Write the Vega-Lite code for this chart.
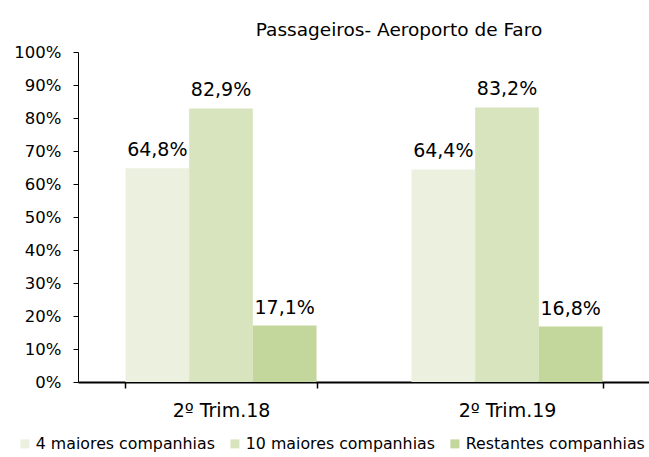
{
  "$schema": "https://vega.github.io/schema/vega-lite/v6.json",
  "width": 572,
  "height": 330,
  "autosize": {"type": "none"},
  "padding": {"left": 78, "top": 52, "right": 0, "bottom": 75},
  "background": "white",
  "title": {
    "text": "Passageiros- Aeroporto de Faro",
    "font": "DejaVu Sans",
    "fontSize": 18.5,
    "fontWeight": "normal",
    "color": "#000000",
    "anchor": "middle",
    "dx": 35,
    "offset": 5
  },
  "data": {
    "values": [
      {"trim": "2º Trim.18", "grupo": "4 maiores companhias", "valor": 0.648},
      {"trim": "2º Trim.18", "grupo": "10 maiores companhias", "valor": 0.829},
      {"trim": "2º Trim.18", "grupo": "Restantes companhias", "valor": 0.171},
      {"trim": "2º Trim.19", "grupo": "4 maiores companhias", "valor": 0.644},
      {"trim": "2º Trim.19", "grupo": "10 maiores companhias", "valor": 0.832},
      {"trim": "2º Trim.19", "grupo": "Restantes companhias", "valor": 0.168}
    ]
  },
  "encoding": {
    "x": {
      "field": "trim",
      "type": "nominal",
      "sort": null,
      "scale": {"paddingInner": 0.332, "paddingOuter": 0.166},
      "axis": {
        "title": null,
        "labelAngle": 0,
        "labelFontSize": 19,
        "labelColor": "#000000",
        "labelPadding": 13,
        "tickBand": "extent",
        "ticks": true,
        "tickSize": 6,
        "tickColor": "#000000",
        "tickWidth": 1.5,
        "domainColor": "#000000",
        "domainWidth": 2
      }
    },
    "xOffset": {
      "field": "grupo",
      "type": "nominal",
      "sort": ["4 maiores companhias", "10 maiores companhias", "Restantes companhias"],
      "scale": {"paddingInner": 0, "paddingOuter": 0}
    },
    "y": {
      "field": "valor",
      "type": "quantitative",
      "scale": {"domain": [0, 1], "nice": false},
      "axis": {
        "title": null,
        "values": [0, 0.1, 0.2, 0.3, 0.4, 0.5, 0.6, 0.7, 0.8, 0.9, 1],
        "format": ".0%",
        "grid": false,
        "labelFontSize": 16.5,
        "labelColor": "#000000",
        "labelPadding": 12,
        "tickSize": 5,
        "tickColor": "#000000",
        "domainColor": "#000000",
        "domainWidth": 1
      }
    }
  },
  "layer": [
    {
      "mark": {"type": "bar"},
      "encoding": {
        "color": {
          "field": "grupo",
          "type": "nominal",
          "scale": {
            "domain": ["4 maiores companhias", "10 maiores companhias", "Restantes companhias"],
            "range": ["#ebf1de", "#d7e4bd", "#c3d69b"]
          },
          "legend": {
            "orient": "none",
            "legendX": -61,
            "legendY": 384,
            "direction": "horizontal",
            "gridAlign": "none",
            "title": null,
            "symbolType": "square",
            "symbolSize": 81,
            "symbolStrokeWidth": 0,
            "labelFontSize": 15.8,
            "labelLimit": 0,
            "labelColor": "#000000",
            "labelOffset": 3,
            "columnPadding": 12
          }
        }
      }
    },
    {
      "mark": {"type": "text", "baseline": "alphabetic", "dy": -12, "fontSize": 19, "color": "#000000"},
      "encoding": {
        "text": {"field": "valor", "type": "quantitative", "format": ".1%"}
      }
    }
  ],
  "config": {
    "locale": {
      "number": {"decimal": ",", "thousands": ".", "grouping": [3], "currency": ["", " €"]}
    },
    "font": "DejaVu Sans",
    "axis": {"labelFont": "DejaVu Sans"},
    "legend": {"labelFont": "DejaVu Sans"},
    "text": {"font": "DejaVu Sans"},
    "view": {"stroke": null}
  }
}
